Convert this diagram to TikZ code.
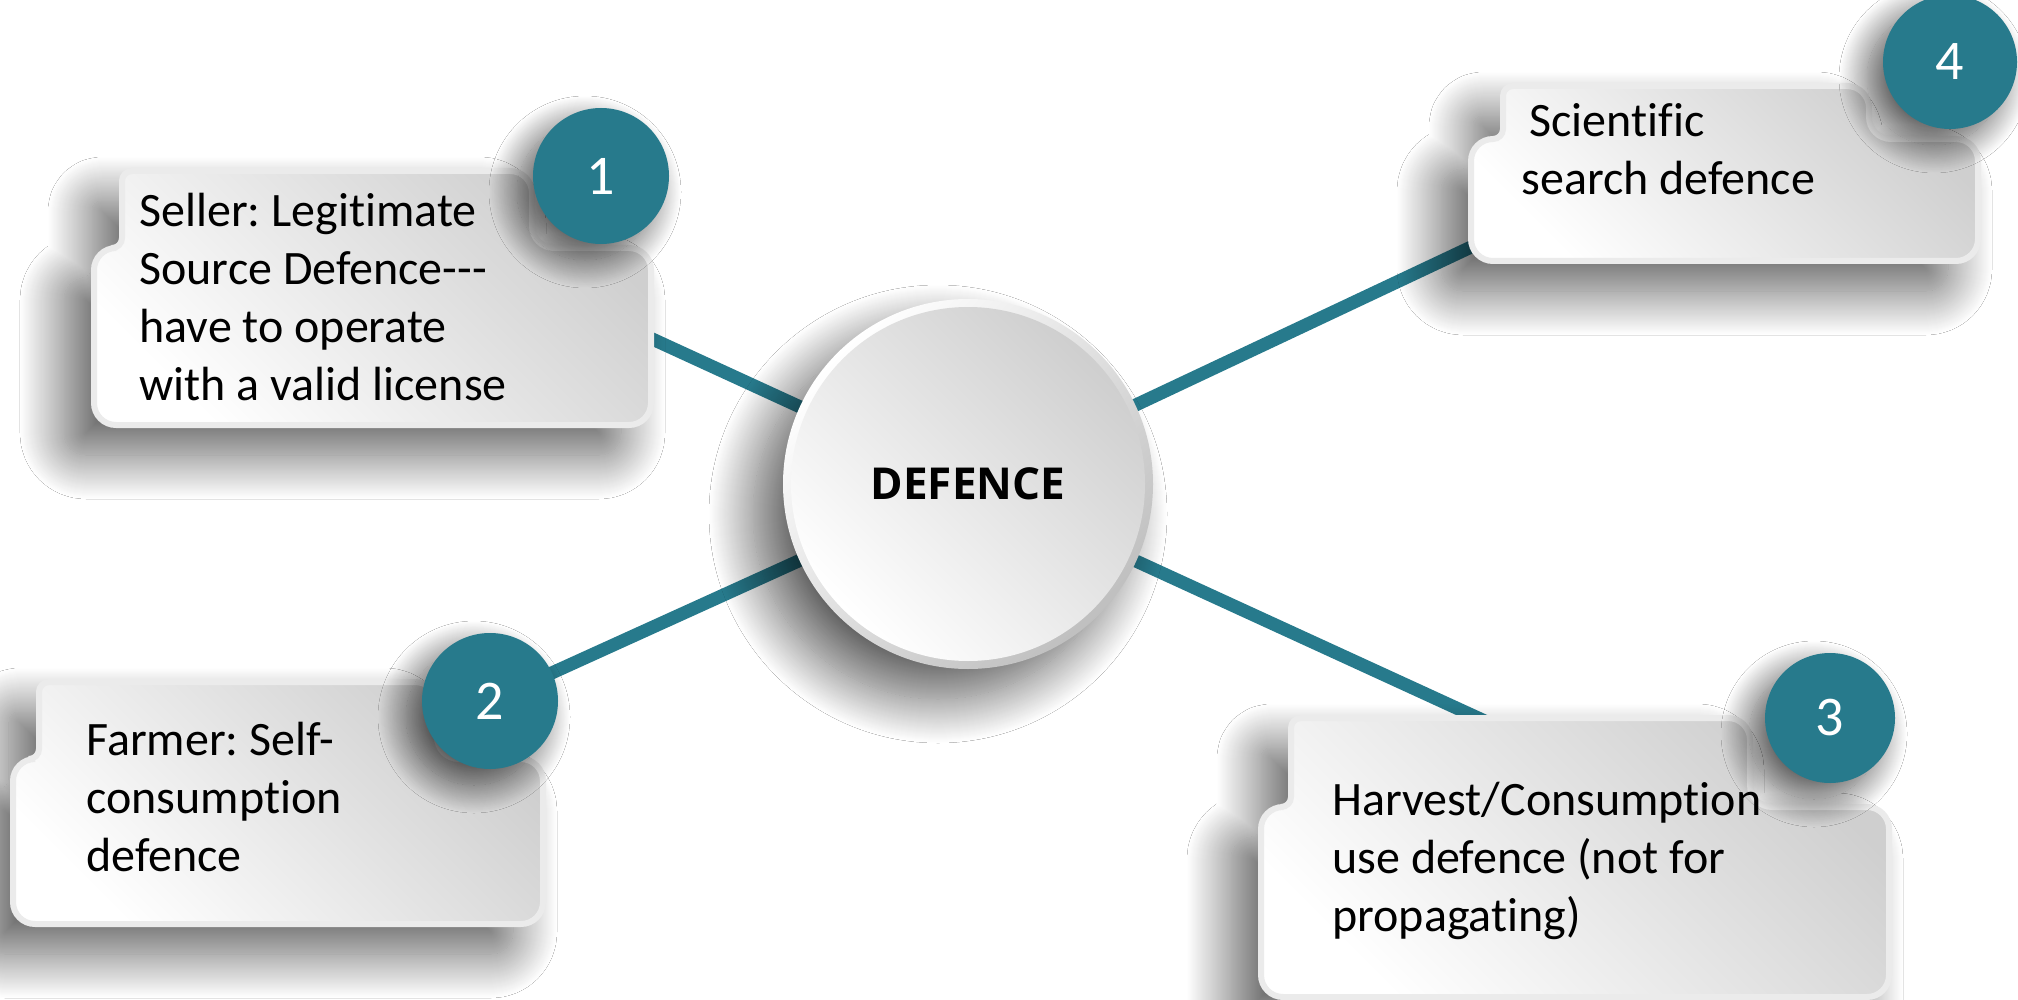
\documentclass[tikz,border=0pt]{standalone}
\usepackage{fontspec}
\setmainfont[Ligatures=CommonOff]{Carlito}
\newfontfamily\headfont{Open Sans}
\usetikzlibrary{shadows.blur}
\definecolor{tealA}{HTML}{277A8C}
\definecolor{rimgray}{HTML}{EBEBEB}
\tikzset{
  spoke/.style={draw=tealA, line width=6.5pt},
  softshadow/.style={blur shadow={shadow xshift=-15pt, shadow yshift=-15pt,
      shadow blur radius=22pt, shadow blur steps=44, shadow opacity=62}},
  badge/.style={circle, fill=tealA, minimum size=68pt, inner sep=0pt, text=white,
    font=\fontsize{28}{30}\selectfont,
    blur shadow={shadow xshift=-8pt, shadow yshift=-8pt, shadow blur radius=14pt,
      shadow blur steps=30, shadow opacity=65}},
  boxtext/.style={align=left, anchor=north west, inner sep=0pt,
    font=\fontsize{24}{29}\selectfont},
  boxfill/.style={softshadow, draw=rimgray, line width=3pt, top color=gray!38, bottom color=white, shading angle=-45},
}
% #1 tabL #2 tabT #3 tabR #4 bodyL #5 bodyT #6 bodyR #7 bodyB
\newcommand\folder[7]{({#4+80},#7) [rounded corners=11pt] -- (#4,#7) -- (#4,#5) [rounded corners=5pt] -- (#1,#5) -- (#1,#2) [rounded corners=11pt] -- (#3,#2) -- (#3,#5) -- (#6,#5) -- (#6,#7) -- cycle}
\frenchspacing
\begin{document}
\begin{tikzpicture}[x=0.5pt, y=-0.5pt]
\fill[white] (0,0) rectangle (2018,1000);
\useasboundingbox (0,0) rectangle (2018,1000);

\coordinate (hubc) at (968,484);
\coordinate (e1) at (600,315);
\coordinate (b2c) at (490,701);
\coordinate (e3) at (1500,728);
\coordinate (e4) at (1520,224);

% spokes
\draw[spoke] (hubc) -- (e1);
\draw[spoke] (hubc) -- (b2c);
\draw[spoke] (hubc) -- (e3);
\draw[spoke] (hubc) -- (e4);

% hub
\path[softshadow, top color=white, bottom color=gray!50, shading angle=45] (968,484) circle (185);
\path[top color=gray!38, bottom color=white, shading angle=-45] (968,484) circle (177);
\node[circle, minimum size=185pt, inner sep=0pt, font=\headfont\bfseries\fontsize{22}{26}\selectfont] (hub) at (hubc) {DEFENCE};

% box 1
\path[boxfill] \folder{122}{171}{532}{94}{248}{651}{425};
\node[boxtext] (t1) at (139,193) {Seller: Legitimate\\Source Defence-{}-{}-\\have to operate\\with a valid license};
\node[badge] (b1) at (601,176) {1};

% box 2
\path[boxfill] \folder{39}{682}{437}{13}{759}{543}{924};
\node[boxtext] (t2) at (86,722) {Farmer: Self-\\consumption\\defence};
\node[badge] (b2) at (b2c) {2};

% box 3
\path[boxfill] \folder{1291}{718}{1750}{1261}{807}{1889}{997};
\node[boxtext] (t3) at (1332,782) {Harvest/Consumption\\use defence (not for\\propagating)};
\node[badge, minimum size=65pt] (b3) at (1830,718) {3};

% box 4
\path[boxfill] \folder{1503}{86}{1869}{1471}{139}{1978}{261};
\node[boxtext] (t4) at (1521,103) {\hspace*{4pt}Scientific\\search defence};
\node[badge, minimum size=67pt] (b4) at (1950,62) {4};
\end{tikzpicture}
\end{document}
